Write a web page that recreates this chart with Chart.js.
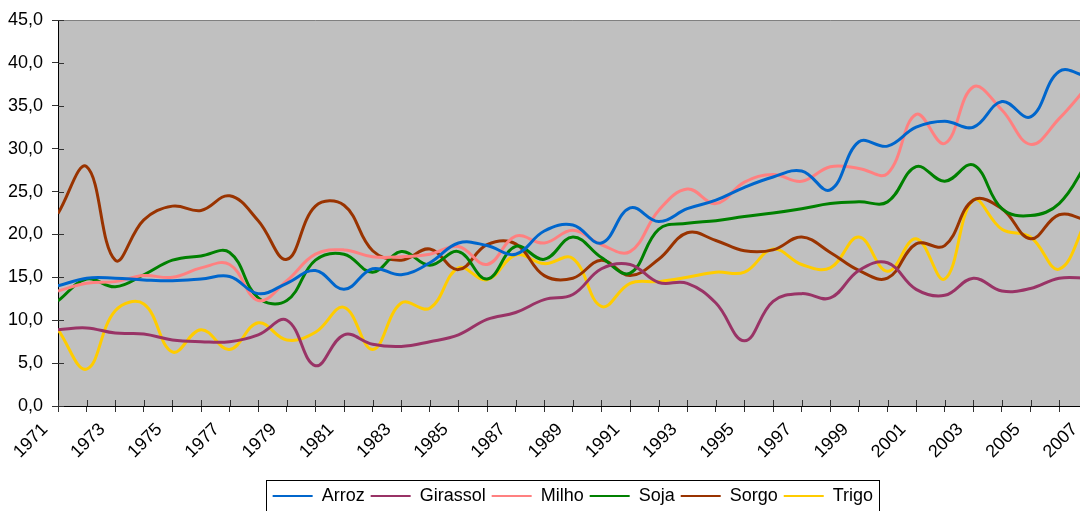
<!DOCTYPE html>
<html>
<head>
<meta charset="utf-8">
<script src="https://cdn.jsdelivr.net/npm/chart.js@4.4.0/dist/chart.umd.min.js"></script>
<style>
    html, body { margin: 0; padding: 0; background: #ffffff; overflow: hidden; }
    #wrap { position: relative; width: 1110px; height: 515px; }
</style>
</head>
<body>
<div id="wrap"><canvas id="precosChart"></canvas></div>
<script>
// Years on the x axis (one point per year)
const years = [1971, 1972, 1973, 1974, 1975, 1976, 1977, 1978, 1979, 1980,
    1981, 1982, 1983, 1984, 1985, 1986, 1987, 1988, 1989, 1990,
    1991, 1992, 1993, 1994, 1995, 1996, 1997, 1998, 1999, 2000,
    2001, 2002, 2003, 2004, 2005, 2006, 2007];

// Tick labels
const xTickLabels = ['1971', '1973', '1975', '1977', '1979', '1981', '1983', '1985', '1987', '1989',
    '1991', '1993', '1995', '1997', '1999', '2001', '2003', '2005', '2007'];
const yTickLabels = ['0,0', '5,0', '10,0', '15,0', '20,0', '25,0', '30,0', '35,0', '40,0', '45,0'];

// Series values
const arroz = [14.0, 14.9, 14.9, 14.7, 14.6, 14.8, 15.1, 13.1, 14.3, 15.8,
    13.6, 16.0, 15.3, 16.7, 19.0, 18.7, 17.7, 20.4, 21.1, 19.0,
    23.1, 21.5, 23.0, 24.0, 25.5, 26.7, 27.4, 25.2, 30.8, 30.3,
    32.5, 33.2, 32.5, 35.5, 33.7, 39.0, 38.4];
const girassol = [8.9, 9.1, 8.5, 8.4, 7.7, 7.5, 7.5, 8.3, 10.0, 4.7,
    8.3, 7.2, 6.95, 7.5, 8.3, 10.1, 10.9, 12.4, 13.0, 16.0,
    16.5, 14.4, 14.3, 12.0, 7.6, 12.2, 13.1, 12.6, 15.8, 16.7,
    13.6, 12.9, 14.9, 13.4, 13.7, 14.9, 14.9];
const milho = [13.4, 14.3, 14.5, 15.2, 15.0, 16.1, 16.5, 12.3, 14.6, 17.7,
    18.2, 17.4, 17.4, 17.7, 18.6, 16.5, 19.8, 19.0, 20.5, 18.8,
    18.0, 22.8, 25.3, 23.6, 26.1, 27.0, 26.2, 27.9, 27.7, 27.1,
    34.0, 30.6, 37.2, 34.5, 30.5, 33.5, 37.3];
const soja = [12.25, 14.8, 13.9, 15.3, 17.0, 17.5, 17.9, 12.6, 12.3, 17.0,
    17.7, 15.6, 18.0, 16.4, 18.0, 14.8, 18.6, 17.1, 19.7, 17.3,
    15.5, 20.6, 21.3, 21.6, 22.1, 22.5, 23.0, 23.6, 23.8, 23.8,
    27.9, 26.2, 28.1, 23.0, 22.2, 23.6, 28.5];
const sorgo = [22.45, 27.9, 17.0, 21.7, 23.3, 22.8, 24.5, 21.6, 17.1, 23.3,
    23.4, 18.1, 17.0, 18.3, 15.9, 18.8, 18.9, 15.2, 14.9, 17.0,
    15.2, 17.1, 20.2, 19.3, 18.1, 18.2, 19.7, 17.9, 15.8, 14.9,
    18.9, 18.7, 24.0, 23.0, 19.5, 22.3, 21.6];
const trigo = [8.9, 4.3, 11.1, 11.9, 6.3, 8.9, 6.6, 9.7, 7.7, 8.6,
    11.5, 6.6, 12.0, 11.4, 16.1, 14.7, 17.6, 16.6, 17.2, 11.6,
    14.3, 14.5, 15.0, 15.6, 15.6, 18.3, 16.5, 16.1, 19.7, 15.7,
    19.5, 14.8, 24.0, 20.6, 19.7, 15.95, 22.0];

const seriesNames = ['Arroz', 'Girassol', 'Milho', 'Soja', 'Sorgo', 'Trigo'];
const seriesValues = [arroz, girassol, milho, soja, sorgo, trigo];
const seriesColors = ['#0066CC', '#993366', '#FF8080', '#008000', '#993300', '#FFCC00'];

const baseFont = { family: '"Liberation Sans", Arial, sans-serif', size: 18 };

// gray plot area, frame, inner tick halves and the legend box
const plotFrame = {
    id: 'plotFrame',
    beforeDraw(chart) {
        const { ctx, chartArea: a } = chart;
        ctx.save();
        ctx.fillStyle = '#C0C0C0';
        ctx.fillRect(a.left, a.top, a.right - a.left, a.bottom - a.top);
        ctx.strokeStyle = '#808080';
        ctx.lineWidth = 1;
        ctx.beginPath();
        ctx.moveTo(a.left, a.top + 0.5);
        ctx.lineTo(a.right, a.top + 0.5);
        ctx.stroke();
        ctx.restore();
    },
    afterDraw(chart) {
        const { ctx, chartArea: a } = chart;
        const xs = chart.scales.x;
        const ys = chart.scales.y;
        ctx.save();
        ctx.strokeStyle = '#333333';
        ctx.lineWidth = 1;
        ctx.beginPath();
        xs.ticks.forEach(t => {
            const px = Math.round(xs.getPixelForValue(t.value)) + 0.5;
            ctx.moveTo(px, a.bottom);
            ctx.lineTo(px, a.bottom - 6);
        });
        ys.ticks.forEach(t => {
            const py = Math.round(ys.getPixelForValue(t.value)) + 0.5;
            ctx.moveTo(a.left, py);
            ctx.lineTo(a.left + 6, py);
        });
        ctx.stroke();

        // legend frame
        const boxes = chart.legend.legendHitBoxes;
        if (boxes && boxes.length) {
            const first = boxes[0];
            const last = boxes[boxes.length - 1];
            const cy = first.top + first.height / 2;
            const left = Math.round(first.left - 7) + 0.5;
            const right = Math.round(last.left + last.width + 6) + 0.5;
            ctx.strokeStyle = '#000000';
            ctx.strokeRect(left, Math.round(cy - 16) + 0.5, right - left, 32);
        }
        ctx.restore();
    }
};

document.addEventListener('DOMContentLoaded', function () {
    const ctx = document.getElementById('precosChart').getContext('2d');

    const datasets = seriesNames.map((name, i) => ({
        label: name,
        data: years.map((yr, j) => ({ x: yr, y: seriesValues[i][j] })),
        borderColor: seriesColors[i],
        backgroundColor: seriesColors[i],
        borderWidth: 3,
        pointRadius: 0,
        tension: 0.4,
        fill: false
    }));

    new Chart(ctx, {
        type: 'line',
        data: { datasets: datasets },
        options: {
            responsive: true,
            maintainAspectRatio: false,
            animation: false,
            layout: { padding: { top: 20, left: 0, right: 19, bottom: 0 } },
            plugins: {
                tooltip: { enabled: false },
                legend: {
                    position: 'bottom',
                    fullSize: false,
                    labels: {
                        color: '#000000',
                        font: baseFont,
                        usePointStyle: true,
                        pointStyle: 'line',
                        pointStyleWidth: 40,
                        padding: 6,
                        generateLabels(chart) {
                            const items = Chart.defaults.plugins.legend.labels.generateLabels(chart);
                            items.forEach(it => { it.lineWidth = 2; });
                            return items;
                        }
                    }
                }
            },
            scales: {
                x: {
                    type: 'linear',
                    min: 1971,
                    max: 2007,
                    afterFit(scale) { scale.height = 75; },
                    border: { display: true, color: '#000000', width: 1 },
                    grid: { drawOnChartArea: false, drawTicks: true, tickLength: 6, color: '#333333' },
                    ticks: {
                        stepSize: 1,
                        autoSkip: false,
                        minRotation: 45,
                        maxRotation: 45,
                        padding: 7,
                        labelOffset: -13,
                        color: '#000000',
                        font: baseFont,
                        callback: (v) => xTickLabels.includes(String(v)) ? String(v) : ''
                    }
                },
                y: {
                    min: 0,
                    max: 45,
                    afterFit(scale) { scale.width = 58; },
                    border: { display: true, color: '#000000', width: 1 },
                    grid: { drawOnChartArea: false, drawTicks: true, tickLength: 6, color: '#333333' },
                    ticks: {
                        stepSize: 5,
                        padding: 9,
                        color: '#000000',
                        font: baseFont,
                        callback: (v) => yTickLabels[Math.round(v / 5)]
                    }
                }
            }
        },
        plugins: [plotFrame]
    });
});
</script>
</body>
</html>
